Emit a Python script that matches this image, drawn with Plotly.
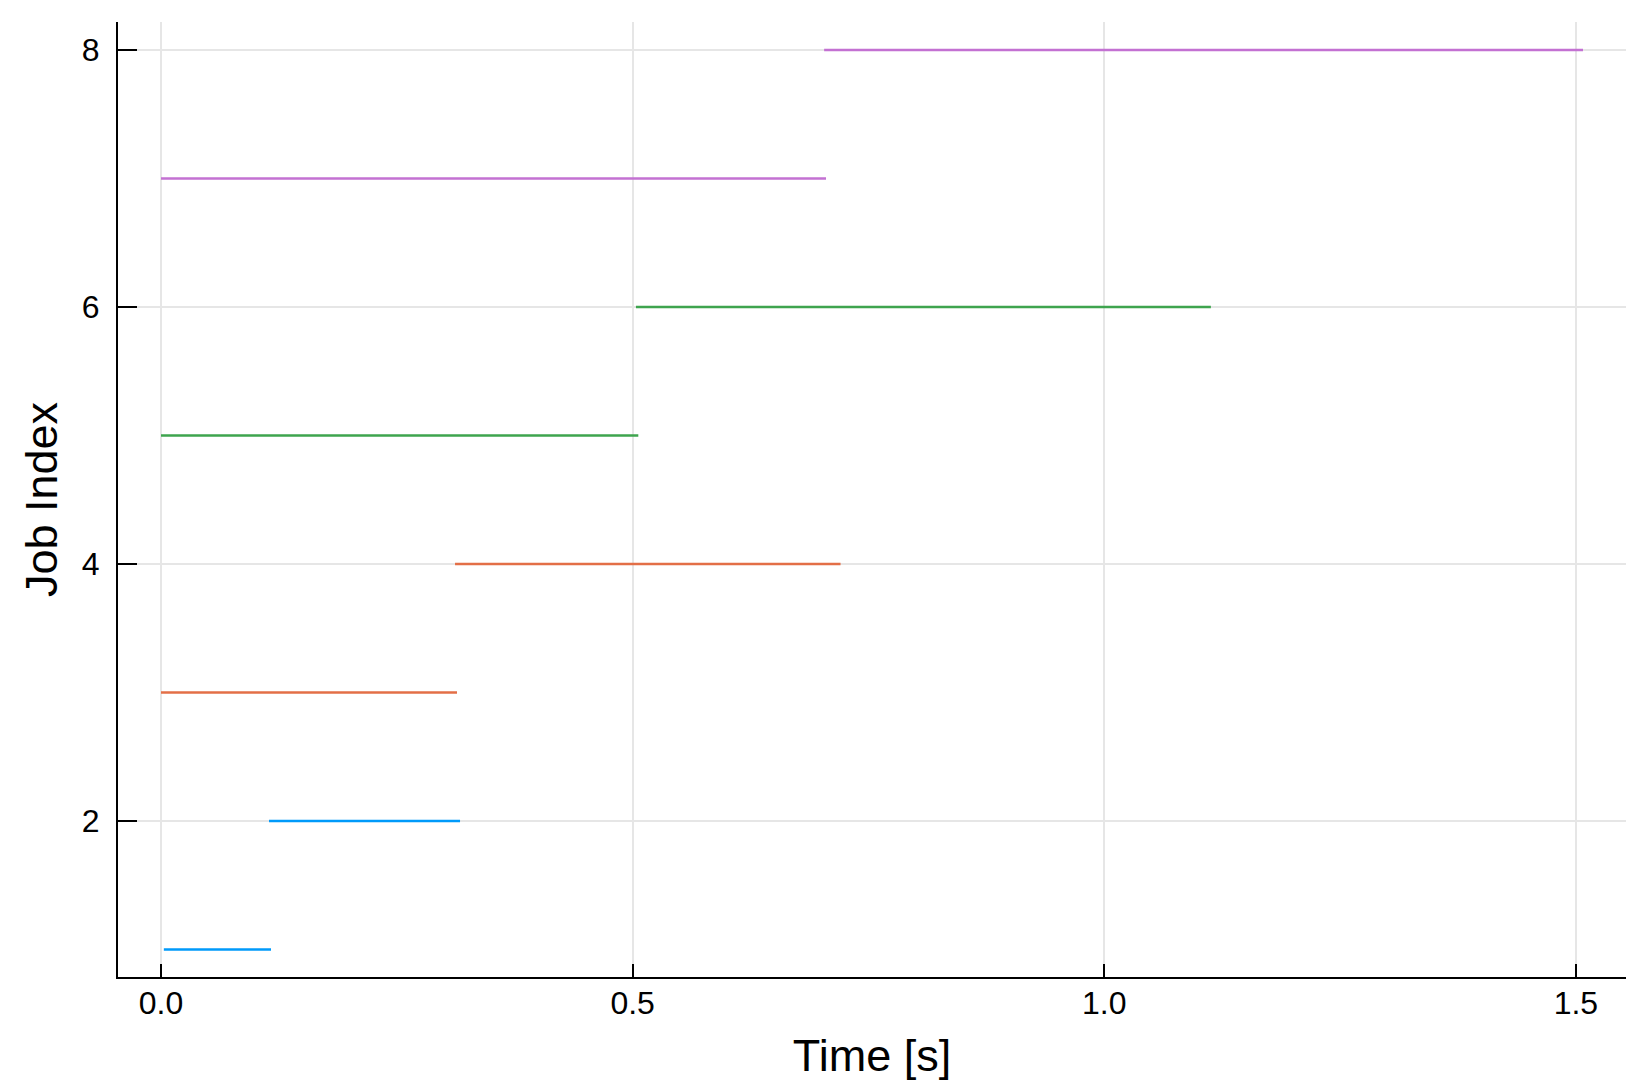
import plotly.graph_objects as go

job_index = [1, 2, 3, 4, 5, 6, 7, 8]
start_time = [0.003, 0.1145, 0.0, 0.3117, 0.0, 0.5035, 0.0, 0.703]
end_time = [0.1166, 0.317, 0.3138, 0.7204, 0.506, 1.113, 0.705, 1.5075]
job_colors = ["#009AFA", "#009AFA", "#E36F47", "#E36F47",
              "#3EA44E", "#3EA44E", "#C371D2", "#C371D2"]

x_ticks = [0.0, 0.5, 1.0, 1.5]
y_ticks = [2, 4, 6, 8]

fig = go.Figure()
for j, s, e, c in zip(job_index, start_time, end_time, job_colors):
    fig.add_trace(go.Scatter(
        x=[s, e], y=[j, j], mode="lines",
        line=dict(color=c, width=2.7),
        showlegend=False, hoverinfo="skip",
    ))

font_family = "Liberation Sans, Arial, sans-serif"
fig.update_layout(
    width=1633, height=1079,
    margin=dict(l=110, r=15, t=14, b=110),
    plot_bgcolor="white", paper_bgcolor="white",
    font=dict(family=font_family, color="black", size=32),
    showlegend=False,
)
fig.update_xaxes(
    range=[-0.0456, 1.5531],
    tickvals=x_ticks, ticktext=[f"{v:.1f}" for v in x_ticks],
    ticks="inside", ticklen=13, tickwidth=2, tickcolor="black",
    showline=True, linecolor="black", linewidth=2, mirror=False,
    showgrid=True, gridcolor="#e6e6e6", gridwidth=1.5,
    zeroline=False,
    tickfont=dict(size=32, family=font_family),
    ticklabelstandoff=-3,
    title=dict(text="Time [s]", font=dict(size=45, family=font_family), standoff=19),
)
fig.update_yaxes(
    range=[0.786, 8.218],
    tickvals=y_ticks, ticktext=[str(v) for v in y_ticks],
    ticks="inside", ticklen=19, tickwidth=2, tickcolor="black",
    showline=True, linecolor="black", linewidth=2, mirror=False,
    showgrid=True, gridcolor="#e6e6e6", gridwidth=1.5,
    zeroline=False,
    tickfont=dict(size=32, family=font_family),
    ticklabelstandoff=10,
    title=dict(text="Job Index", font=dict(size=45, family=font_family), standoff=10),
)

fig.write_html("out.html")
